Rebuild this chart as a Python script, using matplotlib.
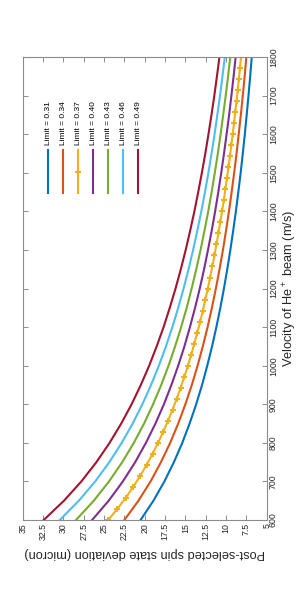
import numpy as np
import matplotlib
matplotlib.use('Agg')
import matplotlib.pyplot as plt
from matplotlib.ticker import FuncFormatter

plt.rcParams['font.family'] = ['Liberation Sans', 'DejaVu Sans']
plt.rcParams['mathtext.default'] = 'regular'

# velocity grid (m/s) for the solid curves
vel = [600, 650, 700, 750, 800, 850, 900, 950, 1000, 1050, 1100, 1150, 1200,
       1250, 1300, 1350, 1400, 1450, 1500, 1550, 1600, 1650, 1700, 1750, 1800]

# deviation (micron)
dev_031 = [20.51, 18.93, 17.58, 16.41, 15.38, 14.48, 13.67, 12.95, 12.31, 11.72, 11.19, 10.70, 10.26,
           9.85, 9.47, 9.12, 8.79, 8.49, 8.20, 7.94, 7.69, 7.46, 7.24, 7.03, 6.84]
dev_034 = [22.50, 20.77, 19.28, 18.00, 16.87, 15.88, 15.00, 14.21, 13.50, 12.86, 12.27, 11.74, 11.25,
           10.80, 10.38, 10.00, 9.64, 9.31, 9.00, 8.71, 8.44, 8.18, 7.94, 7.71, 7.50]
dev_040 = [26.47, 24.43, 22.69, 21.17, 19.85, 18.68, 17.64, 16.72, 15.88, 15.12, 14.44, 13.81, 13.23,
           12.70, 12.22, 11.76, 11.34, 10.95, 10.59, 10.25, 9.93, 9.62, 9.34, 9.07, 8.82]
dev_043 = [28.45, 26.26, 24.39, 22.76, 21.34, 20.08, 18.97, 17.97, 17.07, 16.26, 15.52, 14.84, 14.23,
           13.66, 13.13, 12.65, 12.19, 11.77, 11.38, 11.01, 10.67, 10.35, 10.04, 9.75, 9.48]
dev_046 = [30.44, 28.10, 26.09, 24.35, 22.83, 21.48, 20.29, 19.22, 18.26, 17.39, 16.60, 15.88, 15.22,
           14.61, 14.05, 13.53, 13.04, 12.59, 12.17, 11.78, 11.41, 11.07, 10.74, 10.44, 10.15]
dev_049 = [32.42, 29.93, 27.79, 25.94, 24.32, 22.89, 21.61, 20.48, 19.45, 18.53, 17.68, 16.92, 16.21,
           15.56, 14.96, 14.41, 13.89, 13.42, 12.97, 12.55, 12.16, 11.79, 11.44, 11.12, 10.81]

# the 0.37 curve has markers at every sample
vel_037 = np.linspace(600, 1800, 43)
dev_037 = [24.48, 23.37, 22.35, 21.42, 20.56, 19.77, 19.04, 18.36, 17.73, 17.14,
           16.58, 16.07, 15.58, 15.12, 14.69, 14.28, 13.90, 13.53, 13.18, 12.85,
           12.54, 12.24, 11.96, 11.68, 11.42, 11.18, 10.94, 10.71, 10.49, 10.28,
           10.08, 9.89, 9.70, 9.52, 9.35, 9.18, 9.02, 8.86, 8.71, 8.57,
           8.43, 8.29, 8.16]

limits = ['0.31', '0.34', '0.37', '0.40', '0.43', '0.46', '0.49']
colors = ['#0072BD', '#D95319', '#EDB120', '#7E2F8E', '#77AC30', '#4DBEEE', '#A2142F']
xs = [vel, vel, vel_037, vel, vel, vel, vel]
ys = [dev_031, dev_034, dev_037, dev_040, dev_043, dev_046, dev_049]

fig = plt.figure(figsize=(3.0, 5.98), dpi=100)
ax = fig.add_axes([0.0757, 0.1304, 0.8133, 0.7742])

# chart is drawn rotated: deviation runs right-to-left, velocity bottom-to-top
for i in range(len(limits)):
    if limits[i] == '0.37':
        ax.plot(ys[i], xs[i], color=colors[i], lw=1.5, marker='+', ms=4, mew=1.5)
    else:
        ax.plot(ys[i], xs[i], color=colors[i], lw=1.5)

ax.set_xlim(35, 5)
ax.set_ylim(600, 1800)
ax.set_xticks(np.arange(5, 35.1, 2.5))
ax.set_yticks(np.arange(600, 1801, 100))
ax.xaxis.set_major_formatter(FuncFormatter(lambda v, p: '%g' % v))

gray = '#8c8c8c'
for s in ax.spines.values():
    s.set_color(gray)
    s.set_linewidth(0.8)
ax.tick_params(direction='in', length=3.5, width=0.7, color=gray, labelcolor='#262626',
               labelsize=6.3, top=True, right=True, left=True, bottom=True,
               labelleft=False, labelright=True)
ax.tick_params(axis='x', pad=2, labelrotation=90)
ax.tick_params(axis='y', pad=1.5, labelrotation=90)
for t in ax.get_yticklabels():
    t.set_va('center')

ax.set_xlabel('Post-selected spin state deviation (micron)', fontsize=9.2, rotation=180,
              color='#262626', ha='center', va='center')
ax.xaxis.set_label_coords(0.5, -0.0713)
ax.yaxis.set_label_position('right')
ax.set_ylabel('Velocity of He$^+$ beam (m/s)', fontsize=9.2, rotation=90,
              color='#262626', ha='center', va='center')
ax.yaxis.set_label_coords(1.0955, 0.5)

# legend, drawn rotated as well
for i in range(len(limits)):
    lx = 0.105 + 0.0615 * i
    ax.plot([lx, lx], [0.706, 0.799], transform=ax.transAxes, color=colors[i], lw=1.5,
            clip_on=False)
    if limits[i] == '0.37':
        ax.plot([lx], [0.7525], transform=ax.transAxes, color=colors[i], marker='+',
                ms=4, mew=1.5)
    ax.text(lx, 0.81, 'Limit = ' + limits[i], transform=ax.transAxes, rotation=90,
            ha='center', va='bottom', fontsize=6.0, color='#000000')

fig.savefig('out.png', dpi=100)
